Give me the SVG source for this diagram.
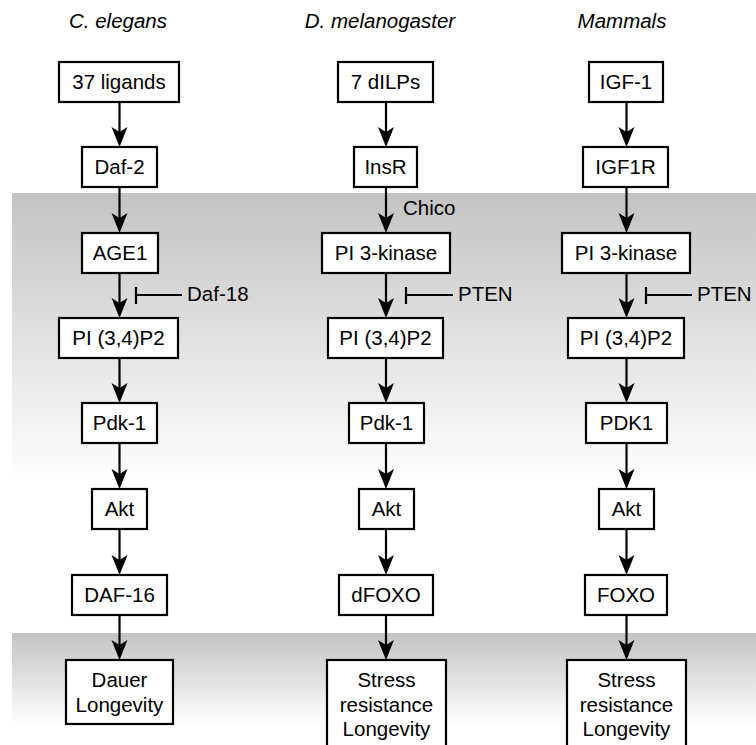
<svg xmlns="http://www.w3.org/2000/svg" width="756" height="745" viewBox="0 0 756 745">
<style>
.box{fill:#fff;stroke:#000;stroke-width:2.2}
.t{font-family:"Liberation Sans",Arial,sans-serif;font-size:20.5px;fill:#000;text-anchor:middle}
.lbl{font-family:"Liberation Sans",Arial,sans-serif;font-size:20.5px;fill:#000}
.hdr{font-family:"Liberation Sans",Arial,sans-serif;font-size:20.5px;font-style:italic;fill:#000;text-anchor:middle}
.c{stroke:#000;stroke-width:2.2;fill:none}
.a{marker-end:url(#ah)}
</style>
<defs>
<linearGradient id="g1" x1="0" y1="0" x2="0" y2="1">
<stop offset="0" stop-color="#c3c3c3"/>
<stop offset="1" stop-color="#ffffff"/>
</linearGradient>
<marker id="ah" markerUnits="userSpaceOnUse" markerWidth="30" markerHeight="30" refX="0" refY="0" orient="auto" overflow="visible">
<path d="M15,0 L-5,-8 L0,0 L-5,8 Z" fill="#000"/>
</marker>
</defs>
<rect x="12" y="193" width="744" height="290" fill="url(#g1)"/>
<rect x="12" y="633" width="744" height="92" fill="url(#g1)"/>
<g id="headers">
<text class="hdr" x="118" y="28">C. elegans</text>
<text class="hdr" x="380" y="28">D. melanogaster</text>
<text class="hdr" x="622" y="28">Mammals</text>
</g>
<g id="connectors">
<line class="c a" x1="119.5" y1="102" x2="119.5" y2="132"/>
<line class="c a" x1="119.5" y1="187" x2="119.5" y2="218"/>
<line class="c a" x1="119.5" y1="273" x2="119.5" y2="303"/>
<line class="c a" x1="119.5" y1="358" x2="119.5" y2="388"/>
<line class="c a" x1="119.5" y1="443" x2="119.5" y2="474"/>
<line class="c a" x1="119.5" y1="529" x2="119.5" y2="560"/>
<line class="c a" x1="119.5" y1="615" x2="119.5" y2="645"/>
<line class="c a" x1="386" y1="102" x2="386" y2="132"/>
<line class="c a" x1="386" y1="187" x2="386" y2="218"/>
<line class="c a" x1="386" y1="273" x2="386" y2="303"/>
<line class="c a" x1="386" y1="358" x2="386" y2="388"/>
<line class="c a" x1="386" y1="443" x2="386" y2="474"/>
<line class="c a" x1="386" y1="529" x2="386" y2="560"/>
<line class="c a" x1="386" y1="615" x2="386" y2="645"/>
<line class="c a" x1="626.5" y1="102" x2="626.5" y2="132"/>
<line class="c a" x1="626.5" y1="187" x2="626.5" y2="218"/>
<line class="c a" x1="626.5" y1="273" x2="626.5" y2="303"/>
<line class="c a" x1="626.5" y1="358" x2="626.5" y2="388"/>
<line class="c a" x1="626.5" y1="443" x2="626.5" y2="474"/>
<line class="c a" x1="626.5" y1="529" x2="626.5" y2="560"/>
<line class="c a" x1="626.5" y1="615" x2="626.5" y2="645"/>
<path class="c" d="M136,287 V304 M136,295 H182"/>
<path class="c" d="M406,287 V304 M406,295 H453"/>
<path class="c" d="M646,287 V304 M646,295 H692"/>
</g>
<g id="labels">
<text class="lbl" x="187" y="301">Daf-18</text>
<text class="lbl" x="458" y="301">PTEN</text>
<text class="lbl" x="697" y="301">PTEN</text>
<text class="lbl" x="403" y="215">Chico</text>
</g>
<g id="n-37ligands"><rect class="box" x="59" y="62" width="120" height="40"/><text class="t" x="119" y="89">37 ligands</text></g>
<g id="n-daf2"><rect class="box" x="82" y="147" width="75" height="40"/><text class="t" x="119.5" y="174">Daf-2</text></g>
<g id="n-age1"><rect class="box" x="82" y="233" width="76" height="40"/><text class="t" x="120" y="260">AGE1</text></g>
<g id="n-pip2-ce"><rect class="box" x="59" y="318" width="119" height="40"/><text class="t" x="118.5" y="345">PI (3,4)P2</text></g>
<g id="n-pdk1-ce"><rect class="box" x="82" y="403" width="75" height="40"/><text class="t" x="119.5" y="430">Pdk-1</text></g>
<g id="n-akt-ce"><rect class="box" x="92" y="489" width="55" height="40"/><text class="t" x="119.5" y="516">Akt</text></g>
<g id="n-daf16"><rect class="box" x="72" y="575" width="95" height="40"/><text class="t" x="119.5" y="602">DAF-16</text></g>
<g id="n-out-ce"><rect class="box" x="66" y="660" width="107" height="64"/><text class="t" x="119.5" y="687">Dauer</text><text class="t" x="119.5" y="712">Longevity</text></g>

<g id="n-dilps"><rect class="box" x="338" y="62" width="95" height="40"/><text class="t" x="385.5" y="89">7 dILPs</text></g>
<g id="n-insr"><rect class="box" x="354" y="147" width="63" height="40"/><text class="t" x="385.5" y="174">InsR</text></g>
<g id="n-pi3k-dm"><rect class="box" x="322" y="233" width="128" height="40"/><text class="t" x="386" y="260">PI 3-kinase</text></g>
<g id="n-pip2-dm"><rect class="box" x="328" y="318" width="115" height="40"/><text class="t" x="385.5" y="345">PI (3,4)P2</text></g>
<g id="n-pdk1-dm"><rect class="box" x="349" y="403" width="75" height="40"/><text class="t" x="386.5" y="430">Pdk-1</text></g>
<g id="n-akt-dm"><rect class="box" x="359" y="489" width="55" height="40"/><text class="t" x="386.5" y="516">Akt</text></g>
<g id="n-dfoxo"><rect class="box" x="339" y="575" width="94" height="40"/><text class="t" x="386" y="602">dFOXO</text></g>
<g id="n-out-dm"><rect class="box" x="327" y="660" width="119" height="90"/><text class="t" x="386.5" y="687">Stress</text><text class="t" x="386.5" y="712">resistance</text><text class="t" x="386.5" y="736">Longevity</text></g>

<g id="n-igf1"><rect class="box" x="589" y="62" width="74" height="40"/><text class="t" x="626" y="89">IGF-1</text></g>
<g id="n-igf1r"><rect class="box" x="583" y="147" width="85" height="40"/><text class="t" x="625.5" y="174">IGF1R</text></g>
<g id="n-pi3k-mm"><rect class="box" x="562" y="233" width="128" height="40"/><text class="t" x="626" y="260">PI 3-kinase</text></g>
<g id="n-pip2-mm"><rect class="box" x="568" y="318" width="116" height="40"/><text class="t" x="626" y="345">PI (3,4)P2</text></g>
<g id="n-pdk1-mm"><rect class="box" x="586" y="403" width="81" height="40"/><text class="t" x="626.5" y="430">PDK1</text></g>
<g id="n-akt-mm"><rect class="box" x="599" y="489" width="55" height="40"/><text class="t" x="626.5" y="516">Akt</text></g>
<g id="n-foxo"><rect class="box" x="585" y="575" width="82" height="40"/><text class="t" x="626" y="602">FOXO</text></g>
<g id="n-out-mm"><rect class="box" x="567" y="660" width="119" height="90"/><text class="t" x="626.5" y="687">Stress</text><text class="t" x="626.5" y="712">resistance</text><text class="t" x="626.5" y="736">Longevity</text></g>
</svg>
